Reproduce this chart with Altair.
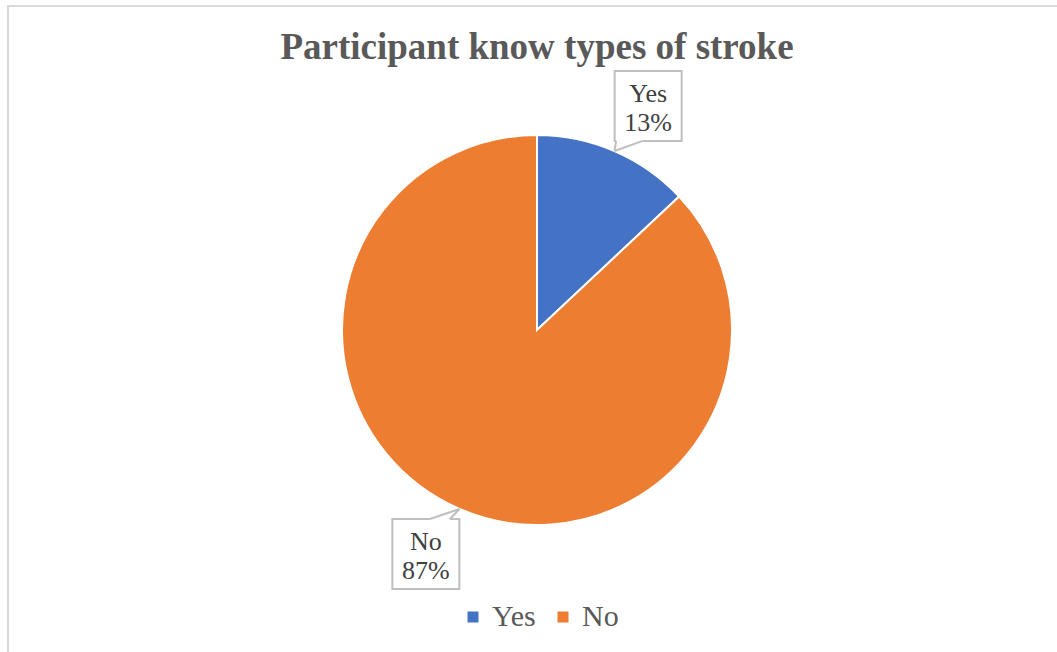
import altair as alt
import pandas as pd

# Survey answers and their shares (percent)
answers = ["Yes", "No"]
shares = [13, 87]
colors = ["#4472C4", "#ED7D31"]

title_text = "Participant know types of stroke"

W, H = 1057, 652
CX, CY, R = 537, 330, 195      # pie centre and radius (px)
LABEL_R = 250                  # distance of the callout boxes from the centre
LABEL_SHIFT = 3                # extra degrees clockwise for the callouts
BOX_W, BOX_H = 67, 70
BOX_STROKE = "#BFBFBF"

df = pd.DataFrame({"answer": answers, "share": shares, "idx": range(len(answers))})

xs = alt.Scale(domain=[0, W], range=[0, W])
ys = alt.Scale(domain=[0, H], range=[0, H])

pie = alt.Chart(df).mark_arc(outerRadius=R, stroke="white", strokeWidth=2).encode(
    theta=alt.Theta("share:Q", stack=True),
    order=alt.Order("idx:Q"),
    color=alt.Color(
        "answer:N",
        scale=alt.Scale(domain=answers, range=colors),
        sort=answers,
        legend=alt.Legend(
            title=None,
            orient="none",
            legendX=458,
            legendY=602,
            direction="horizontal",
            symbolType="square",
            symbolSize=121,
            symbolStrokeWidth=0,
            labelFont="Liberation Serif",
            labelFontSize=30,
            labelColor="#595959",
            labelOffset=4,
            columnPadding=12,
            padding=0,
        ),
    ),
    x=alt.value(CX),
    y=alt.value(CY),
)

# Callout geometry derived from each slice's middle angle
base = alt.Chart(df).transform_window(
    cum="sum(share)", sort=[alt.SortField("idx")]
).transform_joinaggregate(
    total="sum(share)"
).transform_calculate(
    mid="(datum.cum - datum.share / 2) / datum.total * 2 * PI",
).transform_calculate(
    lab="datum.mid + %f * PI / 180" % LABEL_SHIFT,
).transform_calculate(
    bx=f"{CX} + {LABEL_R} * sin(datum.lab)",
    by=f"{CY} - {LABEL_R} * cos(datum.lab)",
    tipx=f"{CX} + {R} * sin(datum.mid)",
    tipy=f"{CY} - {R} * cos(datum.mid)",
).transform_calculate(
    x1=f"datum.bx - {BOX_W / 2}",
    x2=f"datum.bx + {BOX_W / 2}",
    y1=f"datum.by - {BOX_H / 2}",
    y2=f"datum.by + {BOX_H / 2}",
    side="datum.tipy > datum.by ? 1 : -1",
).transform_calculate(
    edge=f"datum.by + datum.side * {BOX_H / 2}",
    ba="datum.tipx < datum.bx ? datum.bx - 32 : datum.bx + 4",
    bb="datum.tipx < datum.bx ? datum.bx - 6 : datum.bx + 24",
    pct="datum.share + '%'",
)

boxes = base.mark_rect(fill="white", stroke=BOX_STROKE, strokeWidth=2).encode(
    x=alt.X("x1:Q", scale=xs, axis=None),
    x2="x2:Q",
    y=alt.Y("y1:Q", scale=ys, axis=None),
    y2="y2:Q",
)

gap = base.mark_rule(stroke="white", strokeWidth=3).encode(
    x=alt.X("ba:Q", scale=xs, axis=None),
    x2="bb:Q",
    y=alt.Y("edge:Q", scale=ys, axis=None),
)

tail_a = base.mark_rule(stroke=BOX_STROKE, strokeWidth=2).encode(
    x=alt.X("ba:Q", scale=xs, axis=None),
    y=alt.Y("edge:Q", scale=ys, axis=None),
    x2="tipx:Q",
    y2="tipy:Q",
)
tail_b = base.mark_rule(stroke=BOX_STROKE, strokeWidth=2).encode(
    x=alt.X("bb:Q", scale=xs, axis=None),
    y=alt.Y("edge:Q", scale=ys, axis=None),
    x2="tipx:Q",
    y2="tipy:Q",
)

label_style = dict(
    font="Liberation Serif",
    fontSize=26,
    color="#404040",
    baseline="alphabetic",
    align="center",
)
name_text = base.mark_text(dy=-4, **label_style).encode(
    x=alt.X("bx:Q", scale=xs, axis=None),
    y=alt.Y("by:Q", scale=ys, axis=None),
    text="answer:N",
)
pct_text = base.mark_text(dy=25, **label_style).encode(
    x=alt.X("bx:Q", scale=xs, axis=None),
    y=alt.Y("by:Q", scale=ys, axis=None),
    text="pct:N",
)

title = alt.Chart(pd.DataFrame({"t": [title_text]})).mark_text(
    font="Liberation Serif",
    fontSize=37,
    fontWeight="bold",
    color="#595959",
    baseline="alphabetic",
    align="center",
).encode(x=alt.value(CX), y=alt.value(59), text="t:N")

frame = alt.Chart(pd.DataFrame({"a": [0]})).mark_rect(
    fill="white", stroke="#D9D9D9", strokeWidth=2
).encode(x=alt.value(8), x2=alt.value(W + 20), y=alt.value(6), y2=alt.value(H + 20))

chart = alt.layer(
    frame, pie, boxes, gap, tail_a, tail_b, name_text, pct_text, title
).resolve_scale(
    x="shared", y="shared"
).properties(
    width=W, height=H, padding=0, autosize="none", background="white"
).configure_view(stroke=None)

chart.save("out.html", embed_options={"renderer": "svg", "actions": False})
